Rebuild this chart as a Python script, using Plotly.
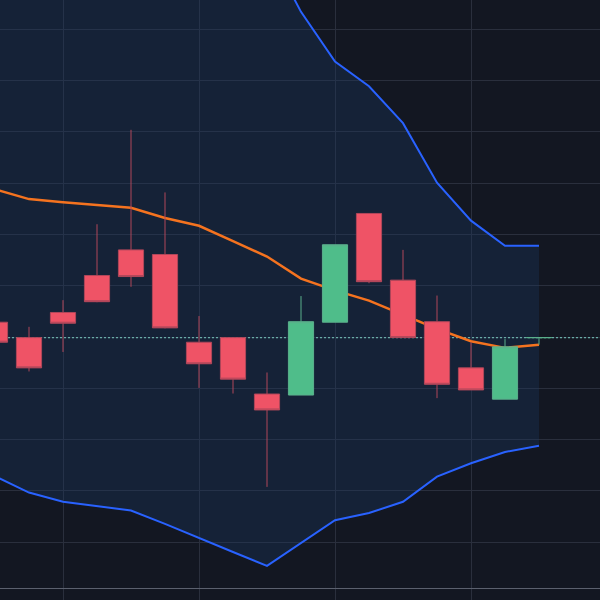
import plotly.graph_objects as go

# ---- data ----
bar_index = list(range(17))

open_ = [100.29, 99.99, 100.48, 101.20, 101.70, 101.61, 99.90, 99.99, 98.89,
         98.87, 100.29, 102.41, 101.11, 100.30, 99.40, 98.79, 99.99]
high = [100.37, 100.20, 100.72, 102.20, 104.04, 102.82, 100.41, 100.00, 99.31,
        100.80, 101.80, 102.41, 101.70, 100.81, 99.90, 99.96, 99.99]
low = [99.83, 99.33, 99.71, 100.68, 100.98, 100.17, 99.01, 98.90, 97.08,
       98.87, 100.29, 101.05, 99.99, 98.81, 98.97, 98.79, 99.85]
close = [99.90, 99.40, 100.27, 100.69, 101.18, 100.18, 99.48, 99.18, 98.58,
         100.30, 101.80, 101.08, 99.99, 99.08, 98.97, 99.81, 99.99]

sma = [102.88, 102.69, 102.63, 102.58, 102.52, 102.32, 102.17, 101.87, 101.57,
       101.14, 100.91, 100.71, 100.44, 100.16, 99.92, 99.79, 99.85]
upper_band = [108.46, 108.42, 108.46, 108.44, 108.43, 108.27, 108.25, 107.92, 107.60,
              106.34, 105.37, 104.89, 104.17, 103.01, 102.27, 101.78, 101.78]
lower_band = [97.29, 96.97, 96.79, 96.71, 96.62, 96.36, 96.08, 95.81, 95.54,
              95.99, 96.43, 96.57, 96.79, 97.28, 97.54, 97.76, 97.88]

price_grid = [96, 97, 98, 99, 100, 101, 102, 103, 104, 105, 106]

# ---- styling ----
BG = "#131722"
GRID = "#2a2f3d"
BLUE = "#2962ff"
ORANGE = "#f5731f"
GREEN = "#4fbd8a"
GREEN_LINE = "#5bb08c"
RED = "#ef5366"
RED_LINE = "#b0475a"
PRICE_LINE = "#6aaca6"

x_range = [0.147, 17.794]
y_range = [94.875, 106.571]

fig = go.Figure()

fig.add_trace(go.Scatter(
    x=bar_index, y=upper_band, mode="lines",
    line=dict(color=BLUE, width=2), hoverinfo="skip", showlegend=False))
fig.add_trace(go.Scatter(
    x=bar_index, y=lower_band, mode="lines",
    line=dict(color=BLUE, width=2), fill="tonexty",
    fillcolor="rgba(28,58,100,0.32)", hoverinfo="skip", showlegend=False))
# last-price line (dotted)
fig.add_trace(go.Scatter(
    x=x_range, y=[close[-1], close[-1]], mode="lines",
    line=dict(color=PRICE_LINE, width=1.3, dash="2px,2px"),
    hoverinfo="skip", showlegend=False))
fig.add_trace(go.Scatter(
    x=bar_index, y=sma, mode="lines",
    line=dict(color=ORANGE, width=2.5), hoverinfo="skip", showlegend=False))

fig.add_trace(go.Candlestick(
    x=bar_index, open=open_, high=high, low=low, close=close,
    xaxis="x2", yaxis="y2",
    increasing=dict(line=dict(color=GREEN_LINE, width=1), fillcolor=GREEN),
    decreasing=dict(line=dict(color=RED_LINE, width=1), fillcolor=RED),
    whiskerwidth=0, showlegend=False))

fig.update_layout(
    width=600, height=600,
    margin=dict(l=0, r=0, t=0, b=0),
    paper_bgcolor=BG, plot_bgcolor=BG,
    showlegend=False,
    boxgap=0.26, boxgroupgap=0,
    xaxis=dict(range=x_range, showgrid=True, gridcolor=GRID, gridwidth=1,
               tick0=2, dtick=4, showticklabels=False, ticks="",
               zeroline=False, anchor="free", position=0.02,
               showline=True, linecolor="#5b606e", linewidth=1,
               rangeslider=dict(visible=False)),
    yaxis=dict(range=y_range, tickvals=price_grid, showgrid=True,
               gridcolor=GRID, gridwidth=1, showticklabels=False,
               ticks="", zeroline=False),
    xaxis2=dict(range=x_range, overlaying="x", visible=False,
                rangeslider=dict(visible=False)),
    yaxis2=dict(range=y_range, overlaying="y", visible=False),
)

fig.write_html("out.html", config={"displayModeBar": False},
               post_script="document.body.style.margin='0';document.body.style.overflow='hidden';")
